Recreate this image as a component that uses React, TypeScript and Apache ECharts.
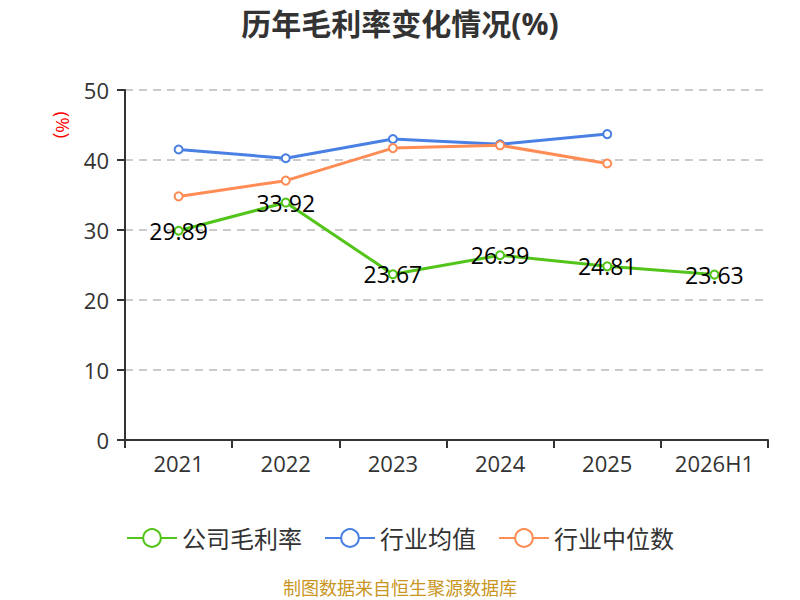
import React, { useEffect, useRef } from "react";
import * as echarts from "echarts";

const categories = ["2021", "2022", "2023", "2024", "2025", "2026H1"];
const companyMargin = [29.89, 33.92, 23.67, 26.39, 24.81, 23.63];
const industryAvg = [41.5, 40.25, 43.0, 42.25, 43.7, null];
const industryMedian = [34.8, 37.05, 41.7, 42.1, 39.5, null];
const seriesNames = ["公司毛利率", "行业均值", "行业中位数"];
const colors = ["#52c41a", "#4a80e3", "#ff8c55"];

export default function App() {
  const ref = useRef<HTMLDivElement>(null);
  useEffect(() => {
    const chart = echarts.init(ref.current!, null, { renderer: "svg" });
    const font = "'Open Sans', 'Noto Sans CJK SC', sans-serif";
    const mk = (i: number, data: any[], label: boolean) => ({
      name: seriesNames[i],
      type: "line",
      data,
      symbol: "emptyCircle",
      symbolSize: 8,
      lineStyle: { width: 3, color: colors[i] },
      itemStyle: { color: colors[i], borderWidth: 1.5 },
      label: label
        ? { show: true, position: "inside", color: "#000", fontSize: 23, fontFamily: font }
        : { show: false },
      z: label ? 3 : 2,
    });
    chart.setOption({
      animation: false,
      textStyle: { fontFamily: font },
      title: {
        text: "历年毛利率变化情况(%)",
        left: "center",
        top: 3,
        textStyle: { fontSize: 30, fontWeight: "bold", color: "#333", fontFamily: font },
      },
      legend: {
        data: seriesNames,
        top: 521,
        left: "center",
        itemWidth: 50,
        itemHeight: 22,
        itemGap: 22,
        textStyle: { fontSize: 24, color: "#333", fontFamily: font },
      },
      graphic: [
        {
          type: "text",
          left: "center",
          top: 579,
          style: { text: "制图数据来自恒生聚源数据库", fill: "#c8961e", fontSize: 18, fontFamily: font },
        },
        {
          type: "text",
          x: 63,
          y: 125,
          rotation: -Math.PI / 2,
          style: { text: "(%)", fill: "#ff0000", fontSize: 19, fontFamily: font, align: "center", verticalAlign: "middle" },
        },
      ],
      grid: { left: 125, right: 32, top: 90, bottom: 160 },
      xAxis: {
        type: "category",
        data: categories,
        boundaryGap: true,
        axisLine: { lineStyle: { color: "#333", width: 2 } },
        axisTick: { show: true, length: 8, interval: 0, lineStyle: { color: "#333", width: 2 } },
        axisLabel: { fontSize: 22, color: "#333", margin: 12, interval: 0 },
      },
      yAxis: {
        type: "value",
        min: 0,
        max: 50,
        interval: 10,
        axisLine: { show: true, lineStyle: { color: "#333", width: 2 } },
        axisTick: { show: true, length: 8, lineStyle: { color: "#333", width: 2 } },
        axisLabel: { fontSize: 22, color: "#333", margin: 16 },
        splitLine: { lineStyle: { type: [8, 6], color: "#bbb", width: 1.5 } },
      },
      series: [mk(0, companyMargin, true), mk(1, industryAvg, false), mk(2, industryMedian, false)],
    });
    return () => chart.dispose();
  }, []);
  return <div ref={ref} style={{ position: "absolute", left: 0, top: 0, width: 800, height: 600 }} />;
}
